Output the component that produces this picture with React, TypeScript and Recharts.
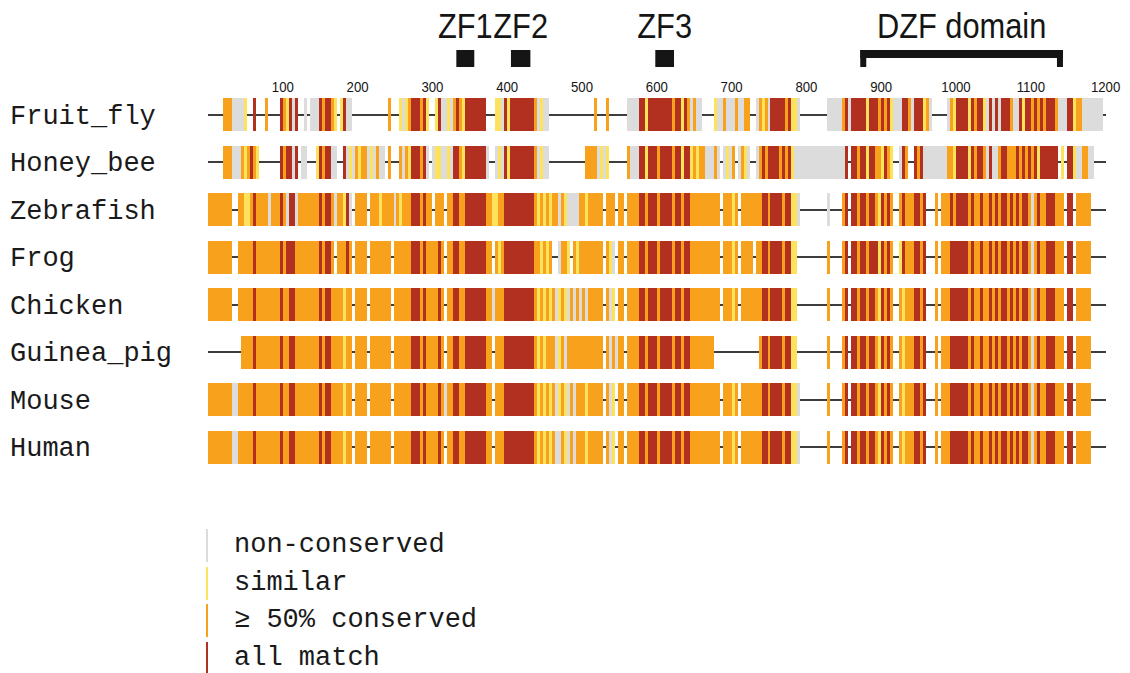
import React from 'react';
import { BarChart, Bar, XAxis, YAxis, Legend } from 'recharts';

// each character = 4 alignment columns
// '-' gap, g non-conserved, y similar, o >=50% conserved, r all match
const BIN = 4;

const species = ['Fruit_fly', 'Honey_bee', 'Zebrafish', 'Frog', 'Chicken', 'Guinea_pig', 'Mouse', 'Human'];

const fruitFly = [
  '-----ooogg', 'ggy--r---o', '----royrgr', '--g-gggror', 'roy-yrgg--', '----------',
  'o---ygyorr', 'rory--yrgg', 'ygoroyrrrr', 'rrr---yygr', 'yrrrrrrrro', 'gygg------',
  '---------o', '---o------', 'ggggrryrrr', 'rrrrrorryr', 'ogogg----y', 'ggogggoggo',
  'o--goyogrr', 'rrroryyg--', '-------ggg', 'ggorgrrrrr', 'yrrrororyg', 'ggrrogrrry',
  'og-----goy', 'rrrryrorry', 'grgrgrrrog', 'gryrrororo', 'rrrogggrry', 'ooggggggg-',
];
const honeyBee = [
  '-----ooogg', 'goyoroy---', '----rorrgr', '-gg---yror', 'rgg--rgygo', 'yoogygogg-',
  'o---ogoyrr', 'rorg-gyygg', 'ygrroyrrrr', 'rrrg--gygr', 'yrrrrrrrro', 'gygg------',
  '------oooo', 'gygy------', 'ogggrryrrr', 'orrrrorryr', 'ryoyoogggo', 'g-gygo-goy',
  'g--gororrr', 'rororygggg', 'gggggggggg', 'gggr-rrorr', 'yrrooyroy-', '-gro--rorg',
  'gggggggooy', 'rrrryrorro', 'grggorrooo', 'rorororyrr', 'rrrr-y-rry', 'ggoogg----',
];
const zebrafish = [
  'oooooooo--', 'ooyyoroooo', 'gooorogrrg', 'oooooooror', 'rogooyrg-o', 'ooo-oooyoo',
  'oogoyooorr', 'roroo-ooo-', 'oorroorrrr', 'rrrooyyoor', 'rrrrrrrrro', 'yoyoyoogoy',
  'ggggooyooo', 'oo-ooo-oo-', 'oooorrorrr', 'orrrrorror', 'rooooooooo', 'o-oooyo-oo',
  'ooooorrorr', 'rrorryyg--', '-------g--', '--or-rrorr', 'orroyroro-', '-orooorror',
  '---o-oooro', 'rrrrorooro', 'orororroro', 'rorrogoroo', 'rrrooo-rr-', 'ooooo-----',
];
const frog = [
  'oooooooo--', 'oooooroooo', 'oooororrro', 'oooooooror', 'ro-oooro-o', 'ooo-oooooo',
  'o-oooooorr', 'rorooooro-', 'oorroorrrr', 'rrroo-oyor', 'rrrrrrrrro', 'oyoyo--goo',
  'y-oyoooooo', 'oo-oyg-oo-', 'oooorrorrr', 'orrrrorror', 'rooooooooo', 'o-oooyo-oo',
  'oo-oorrorr', 'rrorryy---', '-------o--', '--or-rrorr', 'orrryroro-', '-yrooorror',
  '---o-ooorr', 'rrrrorooro', 'orororroro', 'rorrogoroo', 'rrrooo-rr-', 'ooooo-----',
];
const chicken = [
  'oooooooo--', 'oooooroooo', 'ooooroorro', 'oooooooror', 'rooooyoo-o', 'ooo-oooooo',
  'o-oooooorr', 'rorooooro-', 'oorroorrrr', 'rrroogooor', 'rrrrrrrrro', 'yoyoyogyoy',
  'gogogogooo', 'oo-ogy-oo-', 'oooorrorrr', 'orrrrorror', 'rooooooooo', 'o-oooyo-oo',
  'ooooorrorr', 'rrorryy---', '-------o--', '--or-rrorr', 'orroyroro-', '-oyooorror',
  '---o-ooorr', 'rrrrorooro', 'orororroro', 'rorrogoroo', 'rrrooo-rr-', 'ooooo-----',
];
const guineaPig = [
  '----------', '-ooooroooo', 'ooooroorro', 'oooooooror', 'rooooyoo-o', 'ooo-oooooo',
  'o-oooooorr', 'rorooooro-', 'oorroorrrr', 'rrroo-ooor', 'rrrrrrrrro', 'yoyooogyog',
  'oooooooooo', 'oo-ogogoo-', 'oooorrorrr', 'orrrrorror', 'roooooooo-', '----------',
  '----orrorr', 'rrorryy---', '-------o--', '--or-rrorr', 'orroyroro-', '-oyooorror',
  '---o-ooorr', 'rrrrorooro', 'orororroro', 'rorrogoroo', 'rrrooo-rr-', 'ooooo-----',
];
const mouse = [
  'oooooooogg', 'oooooroooo', 'ooooroorro', 'oooooooror', 'rooooyoo-o', 'ooo-oooooo',
  'o-oooooorr', 'roroooorog', 'oorroorrrr', 'rrroo-ooor', 'rrrrrrrrro', 'yoyoyogyoy',
  'gogoooyooo', 'oo-ogy-oo-', 'oooorrorrr', 'orrrrorror', 'rooooooooo', 'o-oooyo-oo',
  'ooooorrorr', 'rrorryyg--', '-------o--', '--or-rrorr', 'orroyroro-', '-oyooorror',
  '---o-ooorr', 'rrrrorooro', 'orororroro', 'rorrogoroo', 'rrrooo-rr-', 'ooooo-----',
];
const human = [
  'oooooooogg', 'oooooroooo', 'ooooroorro', 'oooooooror', 'rooooyoo-o', 'ooo-oooooo',
  'o-oooooorr', 'rorooooro-', 'oorroorrrr', 'rrroo-ooor', 'rrrrrrrrro', 'yoyoyoggoy',
  'gogoooyooo', 'oo-ogy-oo-', 'oooorrorrr', 'orrrrorror', 'rooooooooo', 'o-oooyo-oo',
  'ooooorrorr', 'rrorryyg--', '-------o--', '--or-rrorr', 'orroyroro-', '-oyooorror',
  '---o-ooorr', 'rrrrorooro', 'orororroro', 'rorrogoroo', 'rrrooo-rr-', 'ooooo-----',
];

const tracks = [fruitFly, honeyBee, zebrafish, frog, chicken, guineaPig, mouse, human];

const positionTicks = [100, 200, 300, 400, 500, 600, 700, 800, 900, 1000, 1100, 1200];

const domainLabels = ['ZF1', 'ZF2', 'ZF3', 'DZF domain'];
const domainStart = [332, 405, 598, 872];
const domainEnd = [356, 431, 623, 1143];

const legendLabels = ['non-conserved', 'similar', '\u2265 50% conserved', 'all match'];
const legendClasses = ['g', 'y', 'o', 'r'];

const COLORS: Record<string, string> = {
  g: '#dcdcdd',
  y: '#fde35c',
  o: '#f8a11c',
  r: '#b2301f',
};
const LINE = '#3d3d3d';
const INK = '#151515';
const MONO = '"Liberation Mono", "DejaVu Sans Mono", monospace';
const SANS = '"Liberation Sans", Arial, sans-serif';

// run-length the bins into stacked segments
function toRuns(track: string[]) {
  const out: { cls: string; len: number }[] = [];
  for (const ch of track.join('')) {
    const last = out[out.length - 1];
    if (last && last.cls === ch) last.len += BIN;
    else out.push({ cls: ch, len: BIN });
  }
  return out;
}

const runs = tracks.map(toRuns);
const maxRuns = Math.max(...runs.map(r => r.length));
const rows = species.map((name, i) => {
  const row: any = { name };
  runs[i].forEach((r, j) => {
    row[`s${j}`] = r.len;
    row[`c${j}`] = r.cls;
  });
  return row;
});

// header row: gaps + domain boxes
const headerRow: any = { name: 'domains' };
{
  let pos = 0;
  let k = 0;
  domainLabels.forEach((label, i) => {
    headerRow[`h${k}`] = domainStart[i] - pos;
    headerRow[`k${k}`] = 'gap';
    k++;
    headerRow[`h${k}`] = domainEnd[i] - domainStart[i];
    headerRow[`k${k}`] = i === domainLabels.length - 1 ? 'bracket' : 'box';
    headerRow[`t${k}`] = label;
    k++;
    pos = domainEnd[i];
  });
  headerRow.count = k;
}

const segShape = (j: number) => (props: any) => {
  const { x, y, width, height, payload } = props;
  const cls = payload[`c${j}`];
  if (cls === '-') {
    return <rect x={x} y={y + height / 2 - 1} width={width} height={2} fill={LINE} shapeRendering="crispEdges" />;
  }
  return <rect x={x} y={y} width={width} height={height} fill={COLORS[cls]} shapeRendering="crispEdges" />;
};

// condensed label (narrow font not installed, so squeeze horizontally)
const Condensed = ({ x, y, size, children }: any) => (
  <text transform={`translate(${x},${y}) scale(0.88,1)`} textAnchor="middle" fontFamily={SANS} fontSize={size} fill={INK}>
    {children}
  </text>
);

const headShape = (k: number) => (props: any) => {
  const { x, y, width, height, payload } = props;
  const kind = payload[`k${k}`];
  if (kind === 'gap') return <g />;
  const label = <Condensed x={x + width / 2} y={y - 12} size={35}>{payload[`t${k}`]}</Condensed>;
  if (kind === 'bracket') {
    return (
      <g>
        <rect x={x} y={y} width={width} height={8} fill={INK} />
        <rect x={x} y={y} width={6} height={height} fill={INK} />
        <rect x={x + width - 6} y={y} width={6} height={height} fill={INK} />
        {label}
      </g>
    );
  }
  return (
    <g>
      <rect x={x} y={y} width={width} height={height} fill={INK} />
      {label}
    </g>
  );
};

const SpeciesTick = (props: any) => (
  <text x={10} y={props.y} dy="0.34em" fontFamily={MONO} fontSize={27} fill="#1a1a1a">
    {props.payload.value}
  </text>
);

const PosTick = (props: any) => (
  <Condensed x={props.x} y={props.y + 1} size={15}>{props.payload.value}</Condensed>
);

const renderLegend = () => (
  <div style={{ fontFamily: MONO, fontSize: 27, color: '#1a1a1a' }}>
    {legendLabels.map((label, i) => (
      <div key={label} style={{ display: 'flex', alignItems: 'center', height: 27, lineHeight: '27px', marginBottom: 10.5 }}>
        <span style={{ width: 2, height: 33, background: COLORS[legendClasses[i]], marginRight: 26, flexShrink: 0 }} />
        <span>{label}</span>
      </div>
    ))}
  </div>
);

export default function App() {
  return (
    <div style={{ position: 'absolute', left: 0, top: 0, width: 1130, height: 673, background: '#fff' }}>
      <div style={{ position: 'absolute', left: 0, top: 0 }}>
        <BarChart
          width={1130}
          height={70}
          data={[headerRow]}
          layout="vertical"
          margin={{ top: 50, right: 24.4, left: 208, bottom: 3 }}
          barCategoryGap={0}
        >
          <XAxis type="number" domain={[0, 1200]} hide />
          <YAxis type="category" dataKey="name" hide />
          {Array.from({ length: headerRow.count }, (_, k) => (
            <Bar key={k} dataKey={`h${k}`} stackId="d" isAnimationActive={false} shape={headShape(k)} />
          ))}
        </BarChart>
      </div>
      <div style={{ position: 'absolute', left: 0, top: 0 }}>
        <BarChart
          width={1130}
          height={673}
          data={rows}
          layout="vertical"
          margin={{ top: 61, right: 24.4, left: 0, bottom: 202 }}
        >
          <XAxis
            type="number"
            orientation="top"
            domain={[0, 1200]}
            ticks={positionTicks}
            axisLine={false}
            tickLine={false}
            tickSize={0}
            tickMargin={0}
            height={30}
            tick={<PosTick />}
          />
          <YAxis
            type="category"
            dataKey="name"
            width={208}
            axisLine={false}
            tickLine={false}
            tick={<SpeciesTick />}
          />
          <Legend
            layout="horizontal"
            align="center"
            verticalAlign="middle"
            wrapperStyle={{ top: 532, left: 206, width: 400 }}
            content={renderLegend}
          />
          {Array.from({ length: maxRuns }, (_, j) => (
            <Bar key={j} dataKey={`s${j}`} stackId="a" barSize={33} isAnimationActive={false} shape={segShape(j)} />
          ))}
        </BarChart>
      </div>
    </div>
  );
}
